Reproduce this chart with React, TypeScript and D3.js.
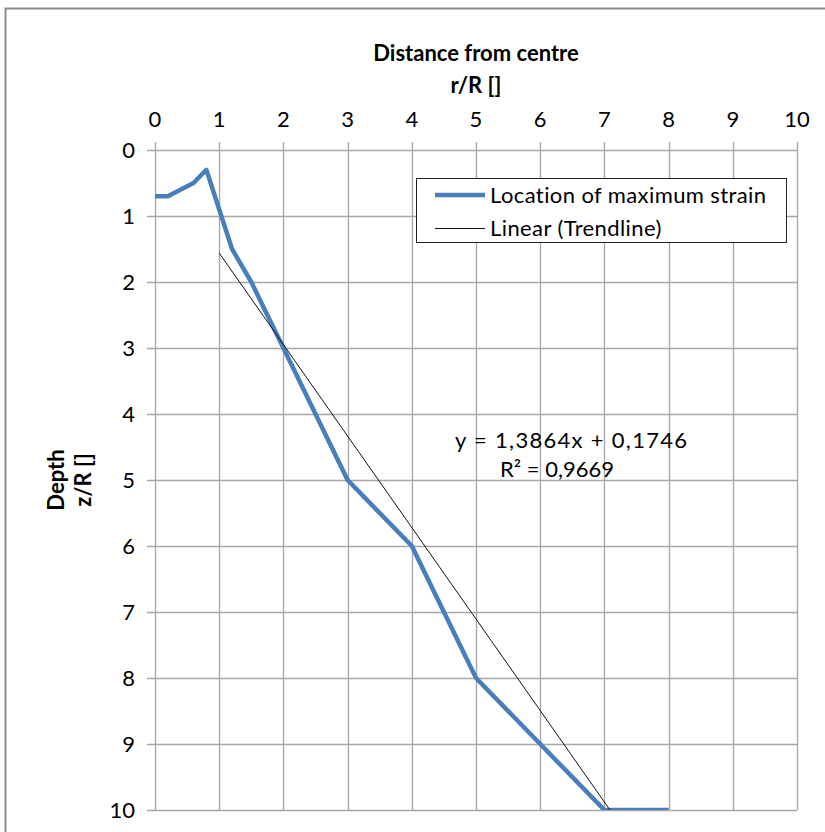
import React from "react";
import * as d3 from "d3";

// Distance from centre (r/R) and depth (z/R) of the maximum-strain location
const strainR = [0, 0.2, 0.6, 0.8, 1.2, 1.5, 2, 3, 4, 5, 6, 7, 8];
const strainZ = [0.7, 0.7, 0.5, 0.3, 1.5, 2, 3, 5, 6, 8, 9, 10, 10];

// Linear trendline fitted to the series
const trendSlope = 1.3864;
const trendIntercept = 0.1746;
const trendRange = [1, 8];

const xTicks = [0, 1, 2, 3, 4, 5, 6, 7, 8, 9, 10];
const yTicks = [0, 1, 2, 3, 4, 5, 6, 7, 8, 9, 10];

const seriesLabel = "Location of maximum strain";
const trendLabel = "Linear (Trendline)";
const equationLabel = "y = 1,3864x + 0,1746";
const r2Label = "R² = 0,9669";

const W = 825;
const H = 832;
const plot = { left: 155, right: 797, top: 150, bottom: 810 };
const FONT = "Lato, 'Noto Sans', sans-serif";
const GRID = "#a6a6a6";
const BLUE = "#4a7ebb";
const FS = 22;

export default function App() {
  const x = d3.scaleLinear().domain([0, 10]).range([plot.left, plot.right]);
  const y = d3.scaleLinear().domain([0, 10]).range([plot.top, plot.bottom]);

  const pts: [number, number][] = strainR.map((r, i) => [r, strainZ[i]]);
  const line = d3
    .line<[number, number]>()
    .x((d) => x(d[0]))
    .y((d) => y(d[1]));

  const trendPts: [number, number][] = trendRange.map((r) => [
    r,
    trendSlope * r + trendIntercept,
  ]);

  return (
    <svg
      width={W}
      height={H}
      style={{ position: "absolute", left: 0, top: 0, background: "#fff" }}
      fontFamily={FONT}
    >
      <defs>
        <clipPath id="plotClip">
          <rect
            x={plot.left}
            y={plot.top}
            width={plot.right - plot.left}
            height={plot.bottom - plot.top}
          />
        </clipPath>
      </defs>
      <rect x={0} y={0} width={W} height={H} fill="#fff" />
      {/* chart frame */}
      <rect
        x={5.5}
        y={8.5}
        width={W + 20}
        height={H + 20}
        fill="none"
        stroke="#8c8c8c"
        strokeWidth={2}
      />

      {/* vertical grid lines with outward ticks at the top */}
      {xTicks.map((t) => (
        <line
          key={"vx" + t}
          x1={Math.round(x(t)) + 0.5}
          x2={Math.round(x(t)) + 0.5}
          y1={plot.top - 8}
          y2={plot.bottom}
          stroke={GRID}
          strokeWidth={1.3}
        />
      ))}
      {/* horizontal grid lines with outward ticks on the left */}
      {yTicks.map((t) => (
        <line
          key={"hy" + t}
          x1={plot.left - 8}
          x2={plot.right}
          y1={Math.round(y(t)) + 0.5}
          y2={Math.round(y(t)) + 0.5}
          stroke={GRID}
          strokeWidth={1.3}
        />
      ))}

      {/* tick labels */}
      {xTicks.map((t) => (
        <text
          key={"tx" + t}
          x={x(t)}
          y={127}
          textAnchor="middle"
          fontSize={FS}
          fill="#000"
        >
          {t}
        </text>
      ))}
      {yTicks.map((t) => (
        <text
          key={"ty" + t}
          x={135}
          y={y(t) + 8}
          textAnchor="end"
          fontSize={FS}
          fill="#000"
        >
          {t}
        </text>
      ))}

      {/* axis titles */}
      <text
        x={(plot.left + plot.right) / 2}
        y={61}
        textAnchor="middle"
        fontSize={FS}
        fontWeight="bold"
      >
        Distance from centre
      </text>
      <text
        x={(plot.left + plot.right) / 2}
        y={93}
        textAnchor="middle"
        fontSize={FS}
        fontWeight="bold"
      >
        r/R []
      </text>
      <g transform={`translate(64, ${(plot.top + plot.bottom) / 2}) rotate(-90)`}>
        <text x={0} y={0} textAnchor="middle" fontSize={FS} fontWeight="bold">
          Depth
        </text>
        <text x={0} y={27} textAnchor="middle" fontSize={FS} fontWeight="bold">
          z/R []
        </text>
      </g>

      {/* data series and trendline */}
      <g clipPath="url(#plotClip)">
        <path
          d={line(pts) ?? ""}
          fill="none"
          stroke={BLUE}
          strokeWidth={4.5}
          strokeLinejoin="round"
        />
        <path
          d={line(trendPts) ?? ""}
          fill="none"
          stroke="#111"
          strokeWidth={1}
        />
      </g>

      {/* trendline equation */}
      <text x={455} y={448} fontSize={FS} fill="#000" letterSpacing={1.3}>
        {equationLabel}
      </text>
      <text x={500} y={477} fontSize={FS} fill="#000">
        {r2Label}
      </text>

      {/* legend */}
      <rect
        x={416.5}
        y={178.5}
        width={370}
        height={64}
        fill="#fff"
        stroke="#222"
        strokeWidth={1}
      />
      <line x1={435} x2={485} y1={195} y2={195} stroke={BLUE} strokeWidth={4.5} />
      <text x={490} y={203} fontSize={FS} fill="#000" letterSpacing={0.4}>
        {seriesLabel}
      </text>
      <line x1={435} x2={485} y1={228.5} y2={228.5} stroke="#111" strokeWidth={1} />
      <text x={490} y={236} fontSize={FS} fill="#000" letterSpacing={0.4}>
        {trendLabel}
      </text>
    </svg>
  );
}
